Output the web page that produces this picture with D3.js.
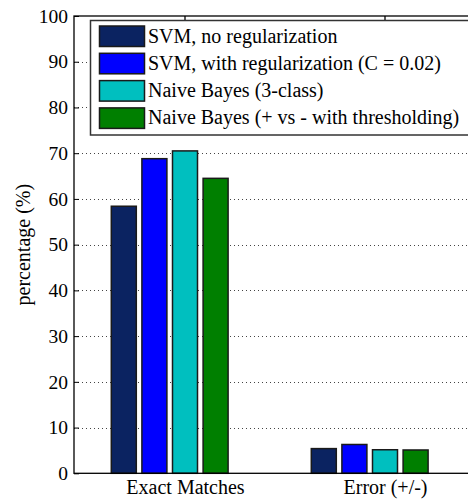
<!DOCTYPE html>
<html><head><meta charset="utf-8">
<script src="https://cdn.jsdelivr.net/npm/d3@7"></script>
</head><body style="margin:0"><svg id="c" width="468" height="500"></svg>
<script>
const categories = ["Exact Matches", "Error (+/-)"];
const seriesNames = ["SVM, no regularization", "SVM, with regularization (C = 0.02)", "Naive Bayes (3-class)", "Naive Bayes (+ vs - with thresholding)"];
const svmNoReg = [58.4, 5.4];
const svmReg = [68.8, 6.3];
const nb3 = [70.5, 5.15];
const nbThresh = [64.5, 5.1];
const seriesValues = [svmNoReg, svmReg, nb3, nbThresh];
const colors = ["#0b2361", "#0000ff", "#00bfbf", "#007f00"];
const yTicks = [0, 10, 20, 30, 40, 50, 60, 70, 80, 90, 100];
const barOffsets = [-2, -1, 0, 1]; // slot index within group (matlab 5-slot layout)

const svg = d3.select("#c");
const L = 74, T = 16, B = 473.3, R = 472;
const x = d3.scaleLinear().domain([-0.555, 1.435]).range([L, R]);
const y = d3.scaleLinear().domain([0, 100]).range([B, T]);
const slot = 0.153, bw = 0.125;
const FS = 20;
const FF = '"Liberation Serif", monospace';

// grid lines
svg.append("g").selectAll("line").data(yTicks.filter(t => t > 0 && t < 100)).join("line")
  .attr("x1", L).attr("x2", R).attr("y1", d => Math.round(y(d)) + 0.5).attr("y2", d => Math.round(y(d)) + 0.5)
  .attr("stroke", "#444").attr("stroke-width", 1).attr("stroke-dasharray", "1,3");

// bars
seriesValues.forEach((vals, j) => {
  svg.append("g").selectAll("rect").data(vals).join("rect")
    .attr("x", (d, i) => x(i + barOffsets[j] * slot - bw / 2))
    .attr("width", x(bw) - x(0))
    .attr("y", d => y(d))
    .attr("height", d => y(0) - y(d))
    .attr("fill", colors[j]).attr("stroke", "#1a1a1a").attr("stroke-width", 1.5);
});

// axes frame
svg.append("rect").attr("x", L).attr("y", T).attr("width", R - L).attr("height", B - T)
  .attr("fill", "none").attr("stroke", "#000").attr("stroke-width", 1.3);

// y axis
const yAxis = svg.append("g").attr("transform", `translate(${L},0)`)
  .call(d3.axisLeft(y).tickValues(yTicks).tickSize(-5).tickPadding(6).tickFormat(d3.format("d")));
yAxis.select(".domain").remove();
yAxis.attr("font-family", FF).attr("font-size", 19.5);
yAxis.selectAll("text").style("font-family", FF).attr("fill", "#000");
yAxis.selectAll("line").attr("stroke", "#000");

// x axis labels (bottom) and top ticks
const xAxis = svg.append("g").attr("transform", `translate(0,${B})`)
  .call(d3.axisBottom(x).tickValues([0, 1]).tickSize(0).tickPadding(7).tickFormat(i => categories[i]));
xAxis.select(".domain").remove();
xAxis.attr("font-family", FF).attr("font-size", FS);
xAxis.selectAll("text").style("font-family", FF).attr("fill", "#000").attr("dy", "0.71em");
svg.append("g").selectAll("line").data([0, 1]).join("line")
  .attr("x1", d => x(d)).attr("x2", d => x(d)).attr("y1", T).attr("y2", T + 5)
  .attr("stroke", "#000").attr("stroke-width", 1.3);

// y label
svg.append("text").attr("transform", `translate(30,${(T + B) / 2}) rotate(-90)`)
  .attr("text-anchor", "middle").attr("font-size", FS).style("font-family", FF).text("percentage (%)");

// legend
const lg = svg.append("g");
lg.append("rect").attr("x", 90.5).attr("y", 20.5).attr("width", 400).attr("height", 114.5)
  .attr("fill", "#fff").attr("stroke", "#333").attr("stroke-width", 1.5);
seriesNames.forEach((name, j) => {
  const ry = 26 + j * 27.3;
  lg.append("rect").attr("x", 99.5).attr("y", ry).attr("width", 45).attr("height", 20.5)
    .attr("fill", colors[j]).attr("stroke", "#1a1a1a").attr("stroke-width", 1.5);
  lg.append("text").attr("x", 148).attr("y", ry + 16.5).attr("font-size", FS).style("font-family", FF).text(name);
});
</script></body></html>
